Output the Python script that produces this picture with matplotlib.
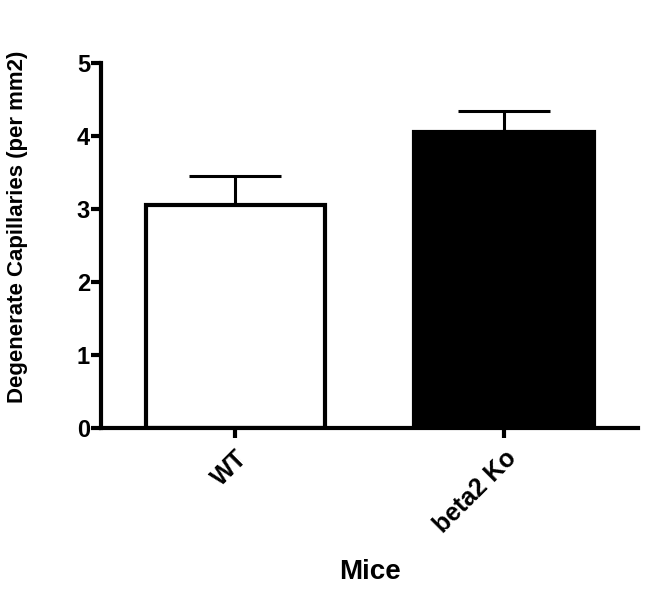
import matplotlib
matplotlib.use("Agg")
import matplotlib.pyplot as plt
import numpy as np

groups = ["WT", "beta2 Ko"]
means = [3.05, 4.06]
errors = [0.40, 0.29]
fills = ["white", "black"]

plt.rcParams["font.family"] = ["Liberation Sans", "DejaVu Sans"]
plt.rcParams["font.weight"] = "bold"

fig = plt.figure(figsize=(6.48, 5.90), dpi=100)
ax = fig.add_axes([0.156, 0.275, 0.829, 0.618])

x = np.arange(len(groups))
ax.bar(x, means, width=0.667, color=fills, edgecolor="black", linewidth=3, zorder=2)
ax.errorbar(x, means, yerr=[np.zeros(len(errors)), errors], fmt="none",
            ecolor="black", elinewidth=2.2, capsize=33, capthick=2.2, zorder=1)

ax.set_xlim(-0.5, 1.5)
ax.set_ylim(0, 5)
ax.set_yticks([0, 1, 2, 3, 4, 5])
ax.set_xticks(x)
ax.set_xticklabels(groups, rotation=45, ha="right", rotation_mode="anchor")

for side in ["top", "right"]:
    ax.spines[side].set_visible(False)
for side in ["left", "bottom"]:
    ax.spines[side].set_linewidth(3)
ax.tick_params(axis="both", width=3, length=7)
ax.tick_params(axis="y", labelsize=17, pad=1)
ax.tick_params(axis="x", labelsize=18, pad=6)
for lab in ax.get_xticklabels() + ax.get_yticklabels():
    lab.set_fontweight("bold")

ax.set_ylabel("Degenerate Capillaries (per mm2)", fontsize=16, fontweight="bold")
ax.yaxis.set_label_coords(-0.136, 0.55)
ax.set_xlabel("Mice", fontsize=20, fontweight="bold")
ax.xaxis.set_label_coords(0.5, -0.36)

fig.savefig("out.png", dpi=100)
